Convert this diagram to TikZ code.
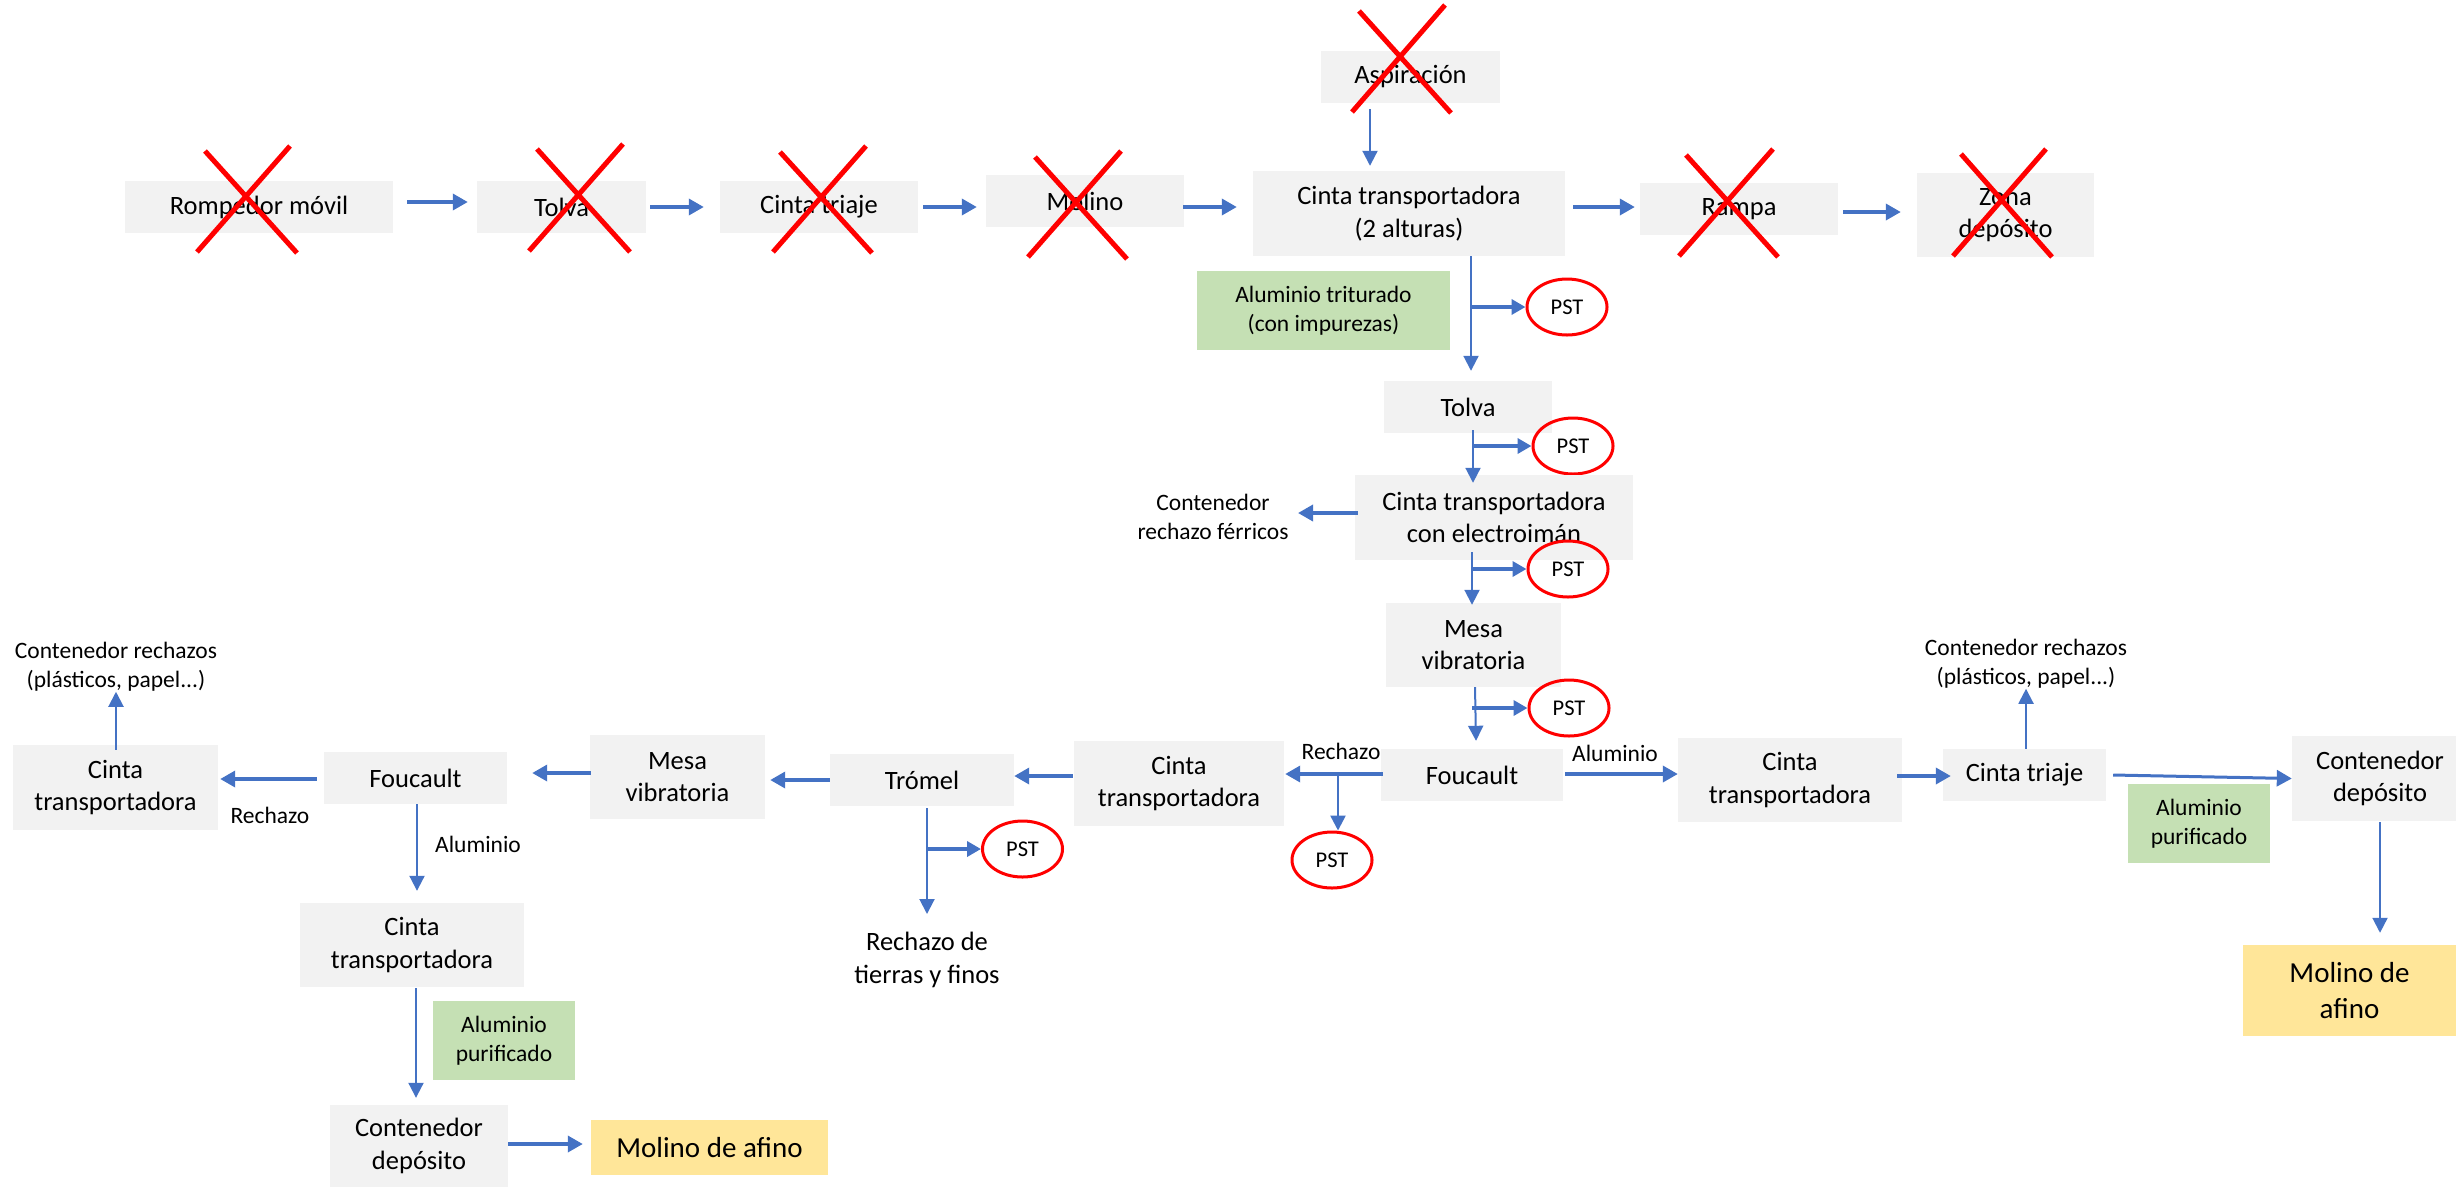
\documentclass[tikz,border=0pt]{standalone}
\usepackage{fontspec}
\setmainfont{Carlito}
\usetikzlibrary{arrows.meta,shapes.geometric}
\definecolor{boxgray}{HTML}{F2F2F2}
\definecolor{boxgreen}{HTML}{C5E0B4}
\definecolor{boxyellow}{HTML}{FFE699}
\definecolor{arrblue}{HTML}{4472C4}
\definecolor{xred}{HTML}{FF0000}
\newcommand\fsmain{\fontsize{26.5}{32.5}\selectfont}
\newcommand\fssmall{\fontsize{23.5}{29}\selectfont}
\newcommand\fsbig{\fontsize{29}{36}\selectfont}
\newcommand\fspst{\fontsize{22.5}{27}\selectfont}
\tikzset{
  gbox/.style={fill=boxgray, draw=none, align=center, inner sep=0pt, font=\fsmain, text=black},
  grbox/.style={fill=boxgreen, draw=none, align=center, inner sep=0pt, font=\fssmall, text=black},
  ybox/.style={fill=boxyellow, draw=none, align=center, inner sep=0pt, font=\fsbig, text=black},
  pstnode/.style={ellipse, draw=xred, line width=3pt, minimum width=80pt, minimum height=56pt, inner sep=0pt, font=\fspst},
  lbl/.style={align=center, inner sep=0pt, font=\fssmall},
  thk/.style={draw=arrblue, line width=3.5pt, -{Triangle[length=15pt,width=16pt]}},
  thn/.style={draw=arrblue, line width=2pt, -{Triangle[length=15pt,width=15pt]}},
  brl/.style={draw=arrblue, line width=3.5pt, -{Triangle[length=14pt,width=15pt]}},
  xline/.style={draw=xred, line width=5pt},
}
\begin{document}
\begin{tikzpicture}[x=1pt,y=-1pt]
\useasboundingbox (0,0) rectangle (2456,1187);
% ---------- top row ----------
\node[gbox, minimum width=268, minimum height=52] (rompedor) at (259,207) {Rompedor móvil};
\node[gbox, minimum width=169, minimum height=52] (tolva1) at (561.5,207) {Tolva};
\node[gbox, minimum width=198, minimum height=52] (triaje1) at (819,207) {Cinta triaje};
\node[gbox, minimum width=198, minimum height=52] (molino1) at (1085,201) {Molino};
\node[gbox, minimum width=179, minimum height=52] (aspir) at (1410.5,77) {Aspiración};
\node[gbox, minimum width=312, minimum height=85] (cinta2alt) at (1409,213.5) {Cinta transportadora\\(2 alturas)};
\node[gbox, minimum width=198, minimum height=52] (rampa) at (1739,209) {Rampa};
\node[gbox, minimum width=177, minimum height=84] (zona) at (2005.5,215) {Zona\\depósito};
% ---------- central column ----------
\node[grbox, minimum width=253, minimum height=79] (green1) at (1323.5,310.5) {Aluminio triturado\\(con impurezas)};
\node[pstnode] (pst1) at (1567,307) {PST};
\node[gbox, minimum width=168, minimum height=52] (tolva2) at (1468,407) {Tolva};
\node[pstnode] (pst2) at (1573,446) {PST};
\node[gbox, minimum width=278, minimum height=85] (cintaElec) at (1494,517.5) {Cinta transportadora\\con electroimán};
\node[lbl] (ferricos) at (1213,517) {Contenedor\\rechazo férricos};
\node[pstnode] (pst3) at (1568,569) {PST};
\node[gbox, minimum width=175, minimum height=84] (mesa1) at (1473.5,645) {Mesa\\vibratoria};
\node[pstnode] (pst4) at (1569,708) {PST};
\node[gbox, minimum width=182, minimum height=52] (foucault1) at (1472,775) {Foucault};
\node[lbl] (lblRc) at (1341,751) {Rechazo};
\node[lbl] (lblAc) at (1615,753) {Aluminio};
\node[pstnode] (pst5) at (1332,860) {PST};
% ---------- right branch ----------
\node[gbox, minimum width=224, minimum height=84] (cintaR1) at (1790,780) {Cinta\\transportadora};
\node[gbox, minimum width=163, minimum height=52] (triaje2) at (2024.5,775) {Cinta triaje};
\node[lbl] (rechR) at (2026,664) {Contenedor rechazos\\(plásticos, papel...)};
\node[gbox, minimum width=164, minimum height=85] (contR) at (2374,778.5) {\hspace*{12pt}Contenedor\\\hspace*{12pt}depósito};
\node[grbox, minimum width=142, minimum height=79] (greenR) at (2199,823.5) {Aluminio\\purificado};
\node[ybox, minimum width=213, minimum height=91] (molinoR) at (2349.5,990.5) {Molino de\\afino};
% ---------- left branch ----------
\node[gbox, minimum width=210, minimum height=85] (cintaM) at (1179,783.5) {Cinta\\transportadora};
\node[gbox, minimum width=184, minimum height=52] (tromel) at (922,780) {Trómel};
\node[pstnode] (pst6) at (1022.5,849) {PST};
\node[lbl, font=\fsmain] (tierras) at (927,960) {Rechazo de\\tierras y finos};
\node[gbox, minimum width=175, minimum height=84] (mesa2) at (677.5,777) {Mesa\\vibratoria};
\node[gbox, minimum width=183, minimum height=52] (foucault2) at (415.5,778) {Foucault};
\node[lbl] (lblRl) at (270,815) {Rechazo};
\node[lbl] (lblAl) at (478,844) {Aluminio};
\node[gbox, minimum width=205, minimum height=85] (cintaL) at (115.5,787.5) {Cinta\\transportadora};
\node[lbl] (rechL) at (116,667) {Contenedor rechazos\\(plásticos, papel...)};
\node[gbox, minimum width=224, minimum height=84] (cintaL2) at (412,945) {Cinta\\transportadora};
\node[grbox, minimum width=142, minimum height=79] (greenL) at (504,1040.5) {Aluminio\\purificado};
\node[gbox, minimum width=178, minimum height=82] (contL) at (419,1146) {Contenedor\\depósito};
\node[ybox, minimum width=237, minimum height=55] (molinoL) at (709.5,1147.5) {Molino de afino};
% ---------- crosses ----------
\draw[xline] (205,151) -- (297,253) (290,146) -- (197,252);
\draw[xline] (537,149) -- (630,252) (623,144) -- (529,251);
\draw[xline] (780,152) -- (872,253) (866,146) -- (773,252);
\draw[xline] (1035,157) -- (1127,259) (1121,151) -- (1028,257);
\draw[xline] (1359,11) -- (1451,113) (1445,5) -- (1352,112);
\draw[xline] (1686,155) -- (1778,257) (1773,149) -- (1679,256);
\draw[xline] (1961,154) -- (2052,257) (2046,149) -- (1953,256);
% ---------- connectors: top row ----------
\draw[thk] ([shift={(14,-5)}]rompedor.east) -- ([shift={(-9,-5)}]tolva1.west);
\draw[thk] ([shift={(4,0)}]tolva1.east) -- ([shift={(-16,0)}]triaje1.west);
\draw[thk] ([shift={(5,0)}]triaje1.east) -- ([shift={(-9,6)}]molino1.west);
\draw[thk] ([shift={(-1,6)}]molino1.east) -- ([shift={(-16,-6.5)}]cinta2alt.west);
\draw[thn] ([shift={(-40.5,6)}]aspir.south) -- ([shift={(-39,-5)}]cinta2alt.north);
\draw[thk] ([shift={(8,-6.5)}]cinta2alt.east) -- ([shift={(-5,-2)}]rampa.west);
\draw[thk] ([shift={(5,3)}]rampa.east) -- ([shift={(-16,-3)}]zona.west);
% ---------- central column ----------
\draw[thn] ([shift={(62,0)}]cinta2alt.south) -- ([shift={(3,-10)}]tolva2.north);
\coordinate (br1) at (1471,307);
\draw[brl] (br1) -- (pst1.west);
\draw[thn] ([shift={(5,-3)}]tolva2.south) -- ([shift={(-21,8)}]cintaElec.north);
\coordinate (br2) at (1474,446);
\draw[brl] (br2) -- (pst2.west);
\draw[thk] ([shift={(3,-4.5)}]cintaElec.west) -- ([shift={(85,-4)}]ferricos.center);
\draw[thn] ([shift={(-22,-8)}]cintaElec.south) -- ([shift={(-1.5,2)}]mesa1.north);
\coordinate (br3) at (1472,569);
\draw[brl] (br3) -- (pst3.west);
\draw[thn] ([shift={(1.5,0)}]mesa1.south) -- ([shift={(4,-8)}]foucault1.north);
\coordinate (br4) at (1472,708);
\draw[brl] (br4) -- (pst4.west);
\draw[thk] ([shift={(2,-1)}]foucault1.west) -- ([shift={(1,-9.5)}]cintaM.east);
\coordinate (br5) at (1338,774);
\draw[thn, line width=2.5pt] (br5) -- ([shift={(6,0)}]pst5.north);
\draw[thk] ([shift={(2,-1)}]foucault1.east) -- ([shift={(0,-6)}]cintaR1.west);
% ---------- right branch ----------
\draw[thk] ([shift={(-5,-4)}]cintaR1.east) -- ([shift={(8,1)}]triaje2.west);
\draw[thk, line width=3pt] ([shift={(7,0)}]triaje2.east) -- (contR.west);
\draw[thn] ([shift={(1.5,0)}]triaje2.north) -- (rechR.south);
\draw[thn] ([shift={(6,1)}]contR.south) -- ([shift={(30.5,-12)}]molinoR.north);
% ---------- left branch ----------
\draw[thk] ([shift={(-1,-7.5)}]cintaM.west) -- ([shift={(0,-4)}]tromel.east);
\draw[thk] (tromel.west) -- ([shift={(5,3)}]mesa2.east);
\draw[thk] ([shift={(1,-4)}]mesa2.west) -- ([shift={(25,-5)}]foucault2.east);
\draw[thk] ([shift={(-7,1)}]foucault2.west) -- ([shift={(2,-8.5)}]cintaL.east);
\draw[thn] ([shift={(0.5,5)}]cintaL.north) -- (rechL.south);
\draw[thn] ([shift={(1.5,0)}]foucault2.south) -- ([shift={(5,-12)}]cintaL2.north);
\draw[thn] ([shift={(4,1)}]cintaL2.south) -- ([shift={(-3,-7)}]contL.north);
\draw[thk] ([shift={(0,-2)}]contL.east) -- ([shift={(-8,-3.5)}]molinoL.west);
\draw[thn] ([shift={(5,2)}]tromel.south) -- ([shift={(0,-46)}]tierras.center);
\coordinate (br6) at (927,849);
\draw[brl] (br6) -- (pst6.west);
\end{tikzpicture}
\end{document}
